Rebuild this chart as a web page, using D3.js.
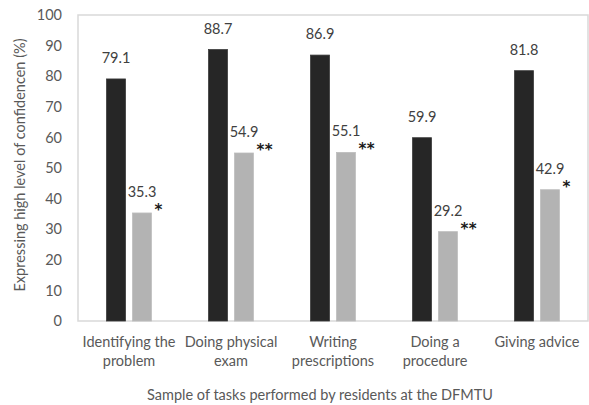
<!DOCTYPE html>
<html>
<head>
<meta charset="utf-8">
<script src="https://d3js.org/d3.v7.min.js"></script>
<style>
  body { margin: 0; background: #fff; }
  text { font-family: Lato, "Open Sans", sans-serif; }
</style>
</head>
<body>
<div id="chart"></div>
<script>
// data
var tasks = [
  ["Identifying the", "problem"],
  ["Doing physical", "exam"],
  ["Writing", "prescriptions"],
  ["Doing a", "procedure"],
  ["Giving advice"]
];
var seriesA = [79.1, 88.7, 86.9, 59.9, 81.8];
var seriesB = [35.3, 54.9, 55.1, 29.2, 42.9];
var signif = ["*", "**", "**", "**", "*"];
var yTicks = [0, 10, 20, 30, 40, 50, 60, 70, 80, 90, 100];

var W = 589, H = 405;
var margin = {top: 15, right: 1, bottom: 84, left: 78};
var width = W - margin.left - margin.right,
    height = H - margin.top - margin.bottom;

var svg = d3.select("#chart").append("svg")
    .attr("width", W)
    .attr("height", H);

var g = svg.append("g")
    .attr("transform", "translate(" + margin.left + "," + margin.top + ")");

var x = d3.scaleBand()
    .domain(d3.range(tasks.length))
    .range([0, width]);

var inner = d3.scaleBand()
    .domain(["a", "b"])
    .range([x.bandwidth() * 0.28, x.bandwidth() * 0.72])
    .paddingInner(0.27);

var y = d3.scaleLinear()
    .domain([0, 100])
    .range([height, 0]);

// plot frame
g.append("rect")
    .attr("x", 0).attr("y", 0)
    .attr("width", width).attr("height", height)
    .attr("fill", "none")
    .attr("stroke", "#d9d9d9")
    .attr("stroke-width", 1.5);

// y axis, only labels
var yAxis = g.append("g")
    .call(d3.axisLeft(y).tickValues(yTicks).tickSize(0).tickPadding(16));
yAxis.select(".domain").remove();
yAxis.selectAll("text")
    .style("font-size", "14.5px")
    .attr("fill", "#595959");

// x axis labels, two lines
var xAxis = g.append("g")
    .attr("transform", "translate(0," + height + ")");
xAxis.selectAll("text.cat")
    .data(tasks)
    .enter().append("text")
    .attr("class", "cat")
    .attr("x", function(d, i) { return x(i) + x.bandwidth() / 2; })
    .attr("y", 26)
    .attr("text-anchor", "middle")
    .attr("fill", "#595959")
    .style("font-size", "14.5px")
    .each(function(d) {
      var t = d3.select(this);
      d.forEach(function(line, k) {
        t.append("tspan")
          .attr("x", t.attr("x"))
          .attr("dy", k === 0 ? 0 : 19)
          .text(line);
      });
    });

// bars
var groups = g.selectAll("g.task")
    .data(tasks)
    .enter().append("g")
    .attr("class", "task")
    .attr("transform", function(d, i) { return "translate(" + x(i) + ",0)"; });

groups.append("rect")
    .attr("x", inner("a"))
    .attr("width", inner.bandwidth())
    .attr("y", function(d, i) { return y(seriesA[i]); })
    .attr("height", function(d, i) { return height - y(seriesA[i]); })
    .attr("fill", "#262626")
    .attr("stroke", "#3a3a3a")
    .attr("stroke-width", 0.8);

groups.append("rect")
    .attr("x", inner("b"))
    .attr("width", inner.bandwidth())
    .attr("y", function(d, i) { return y(seriesB[i]); })
    .attr("height", function(d, i) { return height - y(seriesB[i]); })
    .attr("fill", "#b3b3b3")
    .attr("stroke", "#bdbdbd")
    .attr("stroke-width", 0.8);

// value labels
groups.append("text")
    .attr("x", inner("a") + inner.bandwidth() / 2)
    .attr("y", function(d, i) { return y(seriesA[i]) - 16; })
    .attr("text-anchor", "middle")
    .attr("fill", "#404040")
    .style("font-size", "14.5px")
    .text(function(d, i) { return seriesA[i].toFixed(1); });

groups.append("text")
    .attr("x", inner("b") + inner.bandwidth() / 2)
    .attr("y", function(d, i) { return y(seriesB[i]) - 16; })
    .attr("text-anchor", "middle")
    .attr("fill", "#404040")
    .style("font-size", "14.5px")
    .text(function(d, i) { return seriesB[i].toFixed(1); });

// significance stars
groups.append("text")
    .attr("x", inner("b") + inner.bandwidth() + 3)
    .attr("y", function(d, i) { return y(seriesB[i]) + 2; })
    .attr("fill", "#1a1a1a")
    .style("font-family", "'DejaVu Sans', sans-serif")
    .style("font-size", "15px")
    .style("font-weight", "bold")
    .style("letter-spacing", "0.5px")
    .text(function(d, i) { return signif[i]; });

// axis titles
svg.append("text")
    .attr("transform", "translate(25," + 165 + ") rotate(-90)")
    .attr("text-anchor", "middle")
    .attr("fill", "#595959")
    .style("font-size", "14.5px")
    .text("Expressing high level of confidencen (%)");

svg.append("text")
    .attr("x", 320)
    .attr("y", 400)
    .attr("text-anchor", "middle")
    .attr("fill", "#595959")
    .style("font-size", "14.5px")
    .text("Sample of tasks performed by residents at the DFMTU");
</script>
</body>
</html>
